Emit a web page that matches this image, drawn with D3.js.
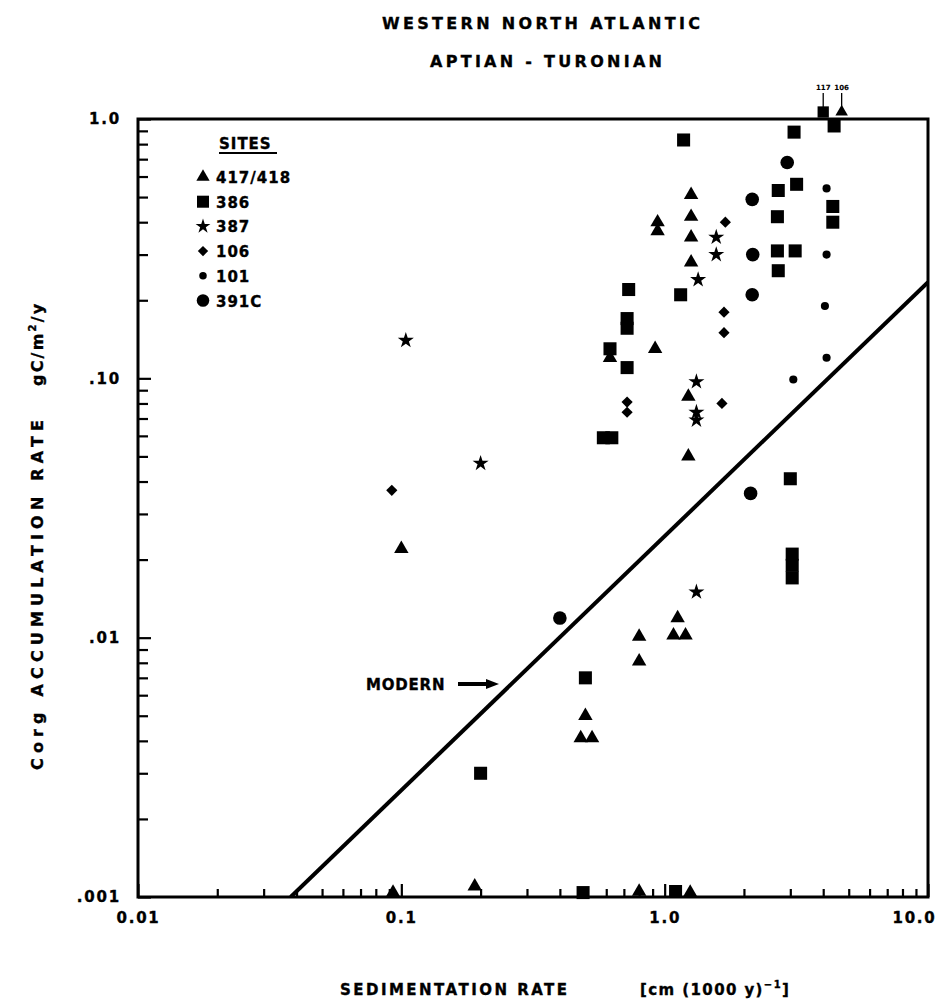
<!DOCTYPE html>
<html>
<head>
<meta charset="utf-8">
<script src="https://cdn.jsdelivr.net/npm/d3@7"></script>
<style>
  body { margin: 0; background: #fff; }
  text { font-family: "DejaVu Sans", sans-serif; font-weight: bold; fill: #000; stroke: #000; stroke-width: 0.35px; }
</style>
</head>
<body>
<svg id="chart" width="940" height="1005"></svg>
<script>
// --- data (sedimentation rate cm/1000y, Corg accumulation gC/m2/y) ---
const siteNames = ["417/418", "386", "387", "106", "101", "391C"];

const site417X = [1.26, 0.94, 0.94, 1.26, 1.26, 1.26, 0.92, 0.62, 1.23, 1.23, 0.10, 1.12, 1.08, 1.20, 0.80, 0.80, 0.50, 0.48, 0.53, 0.19, 0.093, 0.80, 1.25];
const site417Y = [0.51, 0.40, 0.37, 0.42, 0.35, 0.28, 0.13, 0.12, 0.085, 0.050, 0.022, 0.0119, 0.0102, 0.0102, 0.0101, 0.0081, 0.0050, 0.0041, 0.0041, 0.0011, 0.00104, 0.00105, 0.00104];

const site386X = [1.18, 3.1, 4.4, 2.70, 3.17, 4.35, 4.35, 2.68, 2.68, 3.13, 2.70, 0.73, 1.15, 0.72, 0.72, 0.62, 0.72, 0.585, 0.63, 3.0, 3.05, 3.05, 3.05, 0.50, 0.20, 0.49, 1.1];
const site386Y = [0.83, 0.89, 0.94, 0.53, 0.56, 0.46, 0.40, 0.42, 0.31, 0.31, 0.26, 0.22, 0.21, 0.17, 0.156, 0.13, 0.11, 0.059, 0.059, 0.041, 0.021, 0.019, 0.017, 0.0070, 0.0030, 0.00104, 0.00105];

const site387X = [0.104, 0.20, 1.57, 1.57, 1.34, 1.32, 1.32, 1.32, 1.32];
const site387Y = [0.140, 0.047, 0.35, 0.30, 0.24, 0.097, 0.074, 0.069, 0.015];

const site106X = [0.092, 1.70, 1.68, 1.68, 0.72, 0.72, 1.65];
const site106Y = [0.037, 0.40, 0.18, 0.15, 0.081, 0.074, 0.080];

const site101X = [4.12, 4.12, 4.06, 4.12, 3.08];
const site101Y = [0.54, 0.30, 0.19, 0.12, 0.099];

const site391X = [2.92, 2.15, 2.16, 2.15, 2.12, 0.40];
const site391Y = [0.68, 0.49, 0.30, 0.21, 0.036, 0.0119];

// off-scale values drawn at the top edge with their value written above
const offX = [4.0, 4.7];
const offY = [1.17, 1.06];
const offLabels = ["117", "106"];
const offSite = ["386", "417/418"];

// modern relation line
const modernX = [0.038, 10];
const modernY = [0.001, 0.235];

const xTickLabels = ["0.01", "0.1", "1.0", "10.0"];
const yTickLabels = [".001", ".01", ".10", "1.0"];

// --- chart ---
const svg = d3.select("#chart");
const x = d3.scaleLog().domain([0.01, 10]).range([138, 928]);
const y = d3.scaleLog().domain([0.001, 1]).range([897, 119]);

const symbolFor = {
  "417/418": d3.symbolTriangle,
  "386": d3.symbolSquare,
  "387": d3.symbolStar,
  "106": d3.symbolDiamond2 || d3.symbolDiamond,
  "101": d3.symbolCircle,
  "391C": d3.symbolCircle
};
const sizeFor = { "417/418": 90, "386": 170, "387": 80, "106": 80, "101": 52, "391C": 145 };

function isMajor(d) {
  const l = Math.log10(d);
  return Math.abs(l - Math.round(l)) < 1e-6;
}

// titles
svg.append("text").attr("x", 382).attr("y", 29)
  .style("font-size", "16px").attr("textLength", 318).attr("lengthAdjust", "spacing")
  .text("WESTERN NORTH ATLANTIC");
svg.append("text").attr("x", 430).attr("y", 67)
  .style("font-size", "16px").attr("textLength", 232).attr("lengthAdjust", "spacing")
  .text("APTIAN - TURONIAN");

// x axis (ticks inward)
const gx = svg.append("g").attr("transform", "translate(0,897)")
  .call(d3.axisBottom(x).tickValues(x.ticks()).tickSizeInner(-8).tickSizeOuter(0).tickPadding(15)
    .tickFormat(d => isMajor(d) ? xTickLabels[Math.round(Math.log10(d)) + 2] : ""));
gx.select(".domain").remove();
gx.selectAll(".tick line").attr("stroke", "#000").attr("stroke-width", 2.2)
  .filter(d => isMajor(d)).attr("y2", -13);
gx.selectAll(".tick text").attr("font-family", null).attr("font-size", null)
  .style("font-size", "15px").style("letter-spacing", "1.8px")
  .attr("dx", d => Math.round(Math.log10(d)) === 1 ? -14 : 0);

// y axis (ticks inward)
const gy = svg.append("g").attr("transform", "translate(138,0)")
  .call(d3.axisLeft(y).tickValues(y.ticks()).tickSizeInner(-10).tickSizeOuter(0).tickPadding(17)
    .tickFormat(d => isMajor(d) ? yTickLabels[Math.round(Math.log10(d)) + 3] : ""));
gy.select(".domain").remove();
gy.selectAll(".tick line").attr("stroke", "#000").attr("stroke-width", 2.2)
  .filter(d => isMajor(d)).attr("x2", 13);
gy.selectAll(".tick text").attr("font-family", null).attr("font-size", null)
  .style("font-size", "15px").style("letter-spacing", "1.8px");

// frame
svg.append("rect").attr("x", 138).attr("y", 119).attr("width", 790).attr("height", 778)
  .attr("fill", "none").attr("stroke", "#000").attr("stroke-width", 3);

// axis titles
svg.append("text").attr("x", 340).attr("y", 995).style("font-size", "15px")
  .attr("textLength", 227).attr("lengthAdjust", "spacing")
  .text("SEDIMENTATION RATE");
const xu = svg.append("text").attr("x", 640).attr("y", 995).style("font-size", "15px").style("letter-spacing", "1.4px");
xu.append("tspan").text("[cm (1000 y)");
xu.append("tspan").attr("dy", -7).style("font-size", "10px").text("\u22121");
xu.append("tspan").attr("dy", 7).text("]");

svg.append("text").attr("transform", "translate(43,770) rotate(-90)")
  .style("font-size", "16px").attr("textLength", 350).attr("lengthAdjust", "spacing")
  .text("Corg ACCUMULATION RATE");
const yu = svg.append("text").attr("transform", "translate(43,386) rotate(-90)")
  .style("font-size", "16px").style("letter-spacing", "2.2px");
yu.append("tspan").text("gC/m");
yu.append("tspan").attr("dy", -7).style("font-size", "10px").text("2");
yu.append("tspan").attr("dy", 7).text("/y");

// modern line
svg.append("clipPath").attr("id", "plotClip").append("rect")
  .attr("x", 138).attr("y", 119).attr("width", 790).attr("height", 778);
const line = d3.line().x(d => x(d[0])).y(d => y(d[1]));
svg.append("path").datum(d3.zip(modernX, modernY))
  .attr("clip-path", "url(#plotClip)")
  .attr("d", line).attr("fill", "none").attr("stroke", "#000").attr("stroke-width", 4);

// MODERN label with arrow
svg.append("text").attr("x", 366).attr("y", 690).style("font-size", "15px").style("letter-spacing", "0.8px").text("MODERN");
svg.append("path").attr("d", "M458,684 L488,684").attr("stroke", "#000").attr("stroke-width", 4);
svg.append("path").attr("d", "M486,679 L499,684 L486,689 Z").attr("fill", "#000");

// points
const sites = [
  ["417/418", site417X, site417Y],
  ["386", site386X, site386Y],
  ["387", site387X, site387Y],
  ["106", site106X, site106Y],
  ["101", site101X, site101Y],
  ["391C", site391X, site391Y]
];
sites.forEach(([name, xs, ys]) => {
  const sym = d3.symbol().type(symbolFor[name]).size(sizeFor[name]);
  svg.append("g").selectAll("path")
    .data(d3.zip(xs, ys))
    .enter()
    .append("path")
    .attr("transform", d => `translate(${x(d[0])},${y(d[1])})`)
    .attr("d", sym)
    .attr("fill", "#000");
});

// off-scale points clamped to top edge
offX.forEach((v, i) => {
  const cx = x(v);
  const sym = d3.symbol().type(symbolFor[offSite[i]]).size(sizeFor[offSite[i]] * 0.75);
  svg.append("path").attr("transform", `translate(${cx},${y(1) - 7})`).attr("d", sym).attr("fill", "#000");
  svg.append("line").attr("x1", cx).attr("x2", cx).attr("y1", y(1) - 12).attr("y2", 93)
    .attr("stroke", "#000").attr("stroke-width", 1.3);
  svg.append("text").attr("x", cx).attr("y", 90).attr("text-anchor", "middle")
    .style("font-size", "7px").style("stroke-width", "0.1px").text(offLabels[i]);
});

// legend
const lg = svg.append("g");
lg.append("text").attr("x", 219).attr("y", 149).style("font-size", "15px").style("letter-spacing", "1px").text("SITES");
lg.append("line").attr("x1", 219).attr("x2", 277).attr("y1", 153).attr("y2", 153).attr("stroke", "#000").attr("stroke-width", 1.8);
siteNames.forEach((name, i) => {
  const cy = 177 + i * 24.7;
  lg.append("path").attr("transform", `translate(203,${cy})`)
    .attr("d", d3.symbol().type(symbolFor[name]).size(sizeFor[name] * 0.85)).attr("fill", "#000");
  lg.append("text").attr("x", 216).attr("y", cy + 6).style("font-size", "15px").style("letter-spacing", "1px").text(name);
});
</script>
</body>
</html>
